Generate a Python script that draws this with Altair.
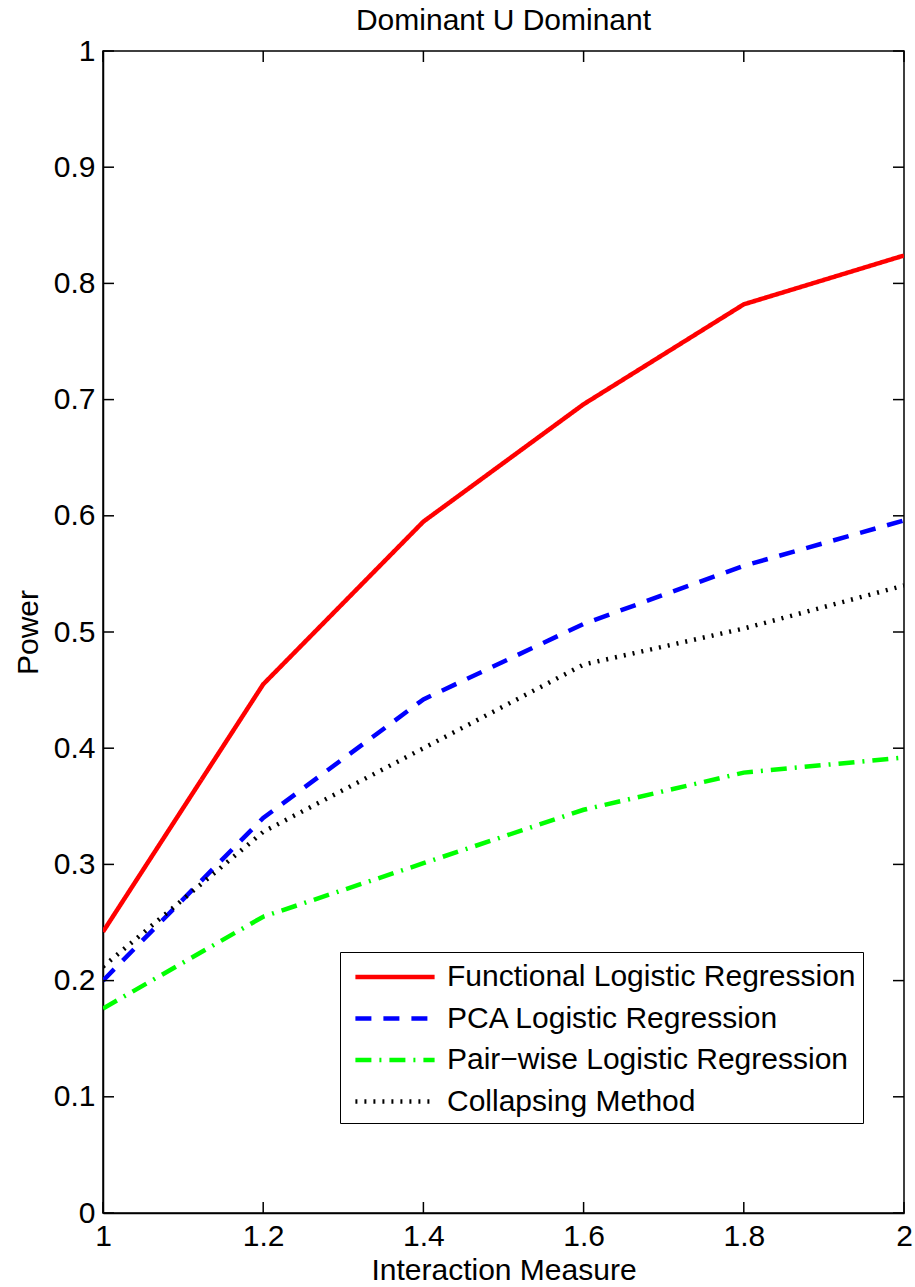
import altair as alt
import pandas as pd

# Interaction measure on the x axis
interaction = [1.0, 1.2, 1.4, 1.6, 1.8, 2.0]

# Power of each method
functional = [0.242, 0.455, 0.595, 0.696, 0.782, 0.824]
pca = [0.200, 0.340, 0.442, 0.507, 0.557, 0.596]
pairwise = [0.176, 0.255, 0.301, 0.347, 0.379, 0.392]
collapsing = [0.212, 0.328, 0.400, 0.472, 0.503, 0.540]

methods = [
    "Functional Logistic Regression",
    "PCA Logistic Regression",
    "Pair\u2212wise Logistic Regression",
    "Collapsing Method",
]
series = [functional, pca, pairwise, collapsing]

x_ticks = [1.0, 1.2, 1.4, 1.6, 1.8, 2.0]
y_ticks = [0.0, 0.1, 0.2, 0.3, 0.4, 0.5, 0.6, 0.7, 0.8, 0.9, 1.0]

rows = []
for name, values in zip(methods, series):
    for xv, yv in zip(interaction, values):
        rows.append({"Interaction Measure": xv, "Power": yv, "Method": name})
df = pd.DataFrame(rows)

W, H = 801, 1162
FONT = "Liberation Sans"
FS = 30
TICK = 11

x_scale = alt.Scale(domain=[1, 2], nice=False, zero=False)
y_scale = alt.Scale(domain=[0, 1], nice=False, zero=False)

lines = alt.Chart(df).mark_line(clip=True).encode(
    x=alt.X("Interaction Measure:Q", scale=x_scale,
            axis=alt.Axis(values=x_ticks, format="~g", title="Interaction Measure",
                          labelFlush=False)),
    y=alt.Y("Power:Q", scale=y_scale,
            axis=alt.Axis(values=y_ticks, format="~g", title="Power", labelFlush=False)),
    color=alt.Color("Method:N", sort=methods,
                    scale=alt.Scale(domain=methods,
                                    range=["#ff0000", "#0000ff", "#00ff00", "#000000"]),
                    legend=alt.Legend(title=None)),
    strokeDash=alt.StrokeDash("Method:N", sort=methods,
                              scale=alt.Scale(domain=methods,
                                              range=[[1, 0], [16, 12], [16, 8, 2, 8], [2, 7]]),
                              legend=alt.Legend(title=None)),
    strokeWidth=alt.StrokeWidth("Method:N", sort=methods,
                                scale=alt.Scale(domain=methods, range=[4.5, 4.5, 4.5, 2]),
                                legend=alt.Legend(title=None)),
)

ytick_df = pd.DataFrame({"v": y_ticks})
xtick_df = pd.DataFrame({"v": x_ticks})

tick_style = dict(color="black", strokeWidth=1.5)

# inward-pointing ticks on all four sides of the frame
left_ticks = alt.Chart(ytick_df).mark_rule(**tick_style).encode(
    y=alt.Y("v:Q", scale=y_scale), x=alt.value(0), x2=alt.value(TICK))
right_ticks = alt.Chart(ytick_df).mark_rule(**tick_style).encode(
    y=alt.Y("v:Q", scale=y_scale), x=alt.value(W - TICK), x2=alt.value(W))
bottom_ticks = alt.Chart(xtick_df).mark_rule(**tick_style).encode(
    x=alt.X("v:Q", scale=x_scale), y=alt.value(H), y2=alt.value(H - TICK))
top_ticks = alt.Chart(xtick_df).mark_rule(**tick_style).encode(
    x=alt.X("v:Q", scale=x_scale), y=alt.value(0), y2=alt.value(TICK))

chart = alt.layer(lines, left_ticks, right_ticks, bottom_ticks, top_ticks).properties(
    width=W,
    height=H,
    title=alt.TitleParams("Dominant U Dominant", font=FONT, fontSize=FS,
                          fontWeight="normal", color="black", anchor="middle", offset=0),
    autosize=alt.AutoSizeParams(type="none"),
    padding={"left": 103, "top": 51, "right": 11, "bottom": 74},
    background="white",
).configure_view(
    stroke="black", strokeWidth=1.5
).configure_axis(
    labelFont=FONT, labelFontSize=FS, labelColor="black",
    titleFont=FONT, titleFontSize=FS, titleColor="black", titleFontWeight="normal",
    domainColor="black", domainWidth=1.5, ticks=False, grid=False, labelPadding=8,
).configure_axisX(
    titlePadding=4,
).configure_axisY(
    titlePadding=10,
).configure_legend(
    orient="none", legendX=237, legendY=901,
    strokeColor="black", fillColor="white", padding=6.5,
    labelFont=FONT, labelFontSize=FS, labelColor="black", labelLimit=600,
    # long horizontal line sample, drawn from a compact symbol size
    symbolType="M-0.6,0H4.35", symbolSize=1024, symbolStrokeWidth=4.5,
    labelOffset=63.5, rowPadding=7.5,
)

chart.save("out.html", embed_options={"renderer": "svg", "actions": False})
